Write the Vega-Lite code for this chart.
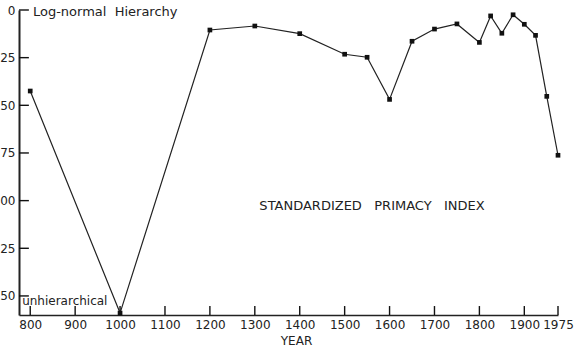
{
  "$schema": "https://vega.github.io/schema/vega-lite/v6.json",
  "autosize": {"type": "none"},
  "width": 539,
  "height": 305,
  "padding": {"left": 19, "top": 10, "right": 23, "bottom": 36},
  "background": "white",
  "config": {
    "view": {"stroke": null},
    "font": "DejaVu Sans",
    "axis": {"grid": false, "labelFont": "DejaVu Sans", "titleFont": "DejaVu Sans", "labelColor": "#222", "titleColor": "#222", "domainColor": "#222", "tickColor": "#111"}
  },
  "datasets": {
    "spi": [
      {"year": 800, "value": 0.425},
      {"year": 1000, "value": 1.59},
      {"year": 1200, "value": 0.105},
      {"year": 1300, "value": 0.084},
      {"year": 1400, "value": 0.124},
      {"year": 1500, "value": 0.232},
      {"year": 1550, "value": 0.248},
      {"year": 1600, "value": 0.469},
      {"year": 1650, "value": 0.164},
      {"year": 1700, "value": 0.10},
      {"year": 1750, "value": 0.073},
      {"year": 1800, "value": 0.170},
      {"year": 1825, "value": 0.031},
      {"year": 1850, "value": 0.122},
      {"year": 1875, "value": 0.025},
      {"year": 1900, "value": 0.075},
      {"year": 1925, "value": 0.133},
      {"year": 1950, "value": 0.453},
      {"year": 1975, "value": 0.762}
    ],
    "xticks": [
      {"year": 800}, {"year": 900}, {"year": 1000}, {"year": 1100}, {"year": 1200}, {"year": 1300}, {"year": 1400},
      {"year": 1500}, {"year": 1600}, {"year": 1700}, {"year": 1800}, {"year": 1900}, {"year": 1975}
    ],
    "yticks": [
      {"value": 0}, {"value": 0.25}, {"value": 0.5}, {"value": 0.75}, {"value": 1}, {"value": 1.25}, {"value": 1.5}
    ]
  },
  "layer": [
    {
      "data": {"name": "spi"},
      "mark": {"type": "line", "color": "#222", "strokeWidth": 1.2},
      "encoding": {
        "x": {
          "field": "year", "type": "quantitative",
          "scale": {"domain": [775, 1975], "nice": false, "zero": false},
          "axis": {
            "title": "YEAR", "titleFontSize": 12, "titleFontWeight": "normal",
            "titleX": 277, "titleY": 20, "titleBaseline": "top",
            "values": [800, 900, 1000, 1100, 1200, 1300, 1400, 1500, 1600, 1700, 1800, 1900, 1975],
            "format": "d", "labelFontSize": 12, "labelFlush": false,
            "ticks": false, "labelPadding": 4,
            "domainWidth": 1.5
          }
        },
        "y": {
          "field": "value", "type": "quantitative",
          "scale": {"domain": [0, 1.6], "reverse": true, "nice": false, "zero": false},
          "axis": {
            "title": null,
            "values": [0, 0.25, 0.5, 0.75, 1, 1.25, 1.5],
            "labelExpr": "datum.value == 0 ? '0' : (datum.value < 1 ? replace(format(datum.value, '.2f'), '0.', '.') : format(datum.value, '.2f'))",
            "labelFontSize": 12, "labelFlush": false,
            "ticks": false, "labelPadding": 4,
            "domainWidth": 2
          }
        }
      }
    },
    {
      "data": {"name": "xticks"},
      "mark": {"type": "rule", "strokeWidth": 1.4, "color": "#111"},
      "encoding": {
        "x": {"field": "year", "type": "quantitative"},
        "y": {"datum": 1.6, "type": "quantitative"},
        "y2": {"datum": 1.553}
      }
    },
    {
      "data": {"name": "yticks"},
      "mark": {"type": "rule", "strokeWidth": 1.4, "color": "#111"},
      "encoding": {
        "y": {"field": "value", "type": "quantitative"},
        "x": {"datum": 775, "type": "quantitative"},
        "x2": {"datum": 797}
      }
    },
    {
      "data": {"name": "spi"},
      "mark": {"type": "point", "shape": "square", "filled": true, "size": 22, "color": "#111", "opacity": 1},
      "encoding": {
        "x": {"field": "year", "type": "quantitative"},
        "y": {"field": "value", "type": "quantitative"}
      }
    },
    {
      "data": {"values": [{"year": 806, "value": 0.0105, "label": "Log-normal\u00a0\u00a0Hierarchy"}]},
      "mark": {"type": "text", "align": "left", "baseline": "middle", "fontSize": 13, "color": "#222"},
      "encoding": {
        "x": {"field": "year", "type": "quantitative"},
        "y": {"field": "value", "type": "quantitative"},
        "text": {"field": "label"}
      }
    },
    {
      "data": {"values": [{"year": 782, "value": 1.527, "label": "unhierarchical"}]},
      "mark": {"type": "text", "align": "left", "baseline": "middle", "fontSize": 12, "color": "#222"},
      "encoding": {
        "x": {"field": "year", "type": "quantitative"},
        "y": {"field": "value", "type": "quantitative"},
        "text": {"field": "label"}
      }
    },
    {
      "data": {"values": [{"year": 1561, "value": 1.028, "label": "STANDARDIZED\u00a0\u00a0\u00a0PRIMACY\u00a0\u00a0\u00a0INDEX"}]},
      "mark": {"type": "text", "align": "center", "baseline": "middle", "fontSize": 13, "color": "#222"},
      "encoding": {
        "x": {"field": "year", "type": "quantitative"},
        "y": {"field": "value", "type": "quantitative"},
        "text": {"field": "label"}
      }
    }
  ]
}
